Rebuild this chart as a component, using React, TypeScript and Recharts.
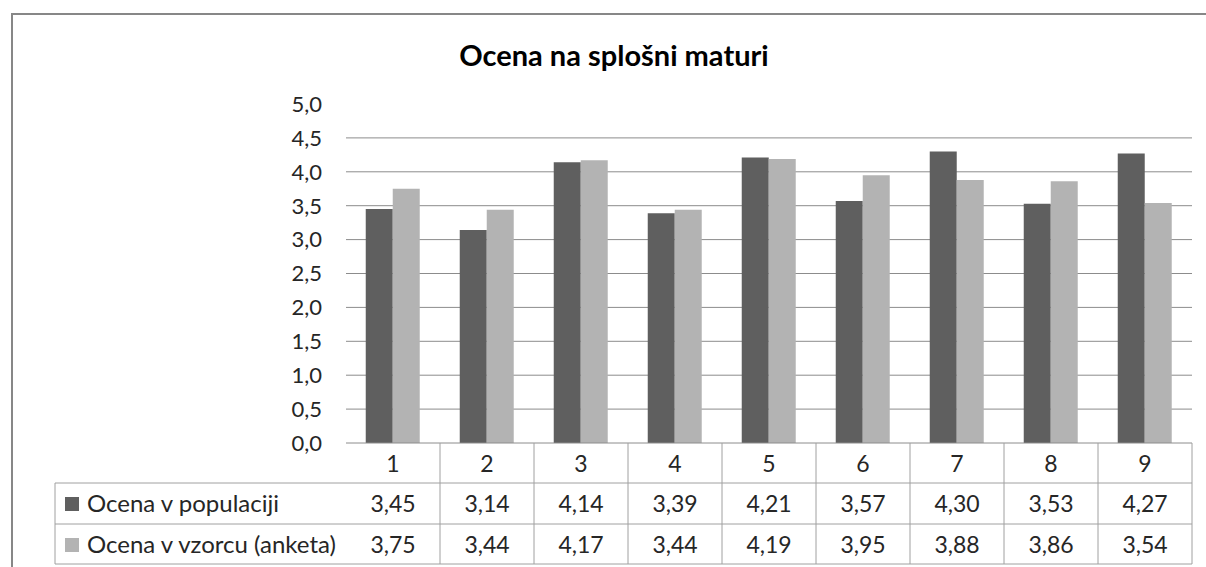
import React from "react";
import { BarChart, Bar, XAxis, YAxis, CartesianGrid } from "recharts";

const CATEGORIES = ["1", "2", "3", "4", "5", "6", "7", "8", "9"];
const POPULATION = [3.45, 3.14, 4.14, 3.39, 4.21, 3.57, 4.3, 3.53, 4.27];
const SAMPLE = [3.75, 3.44, 4.17, 3.44, 4.19, 3.95, 3.88, 3.86, 3.54];
const Y_TICKS = [0, 0.5, 1, 1.5, 2, 2.5, 3, 3.5, 4, 4.5, 5];
const GRID_VALUES = [0.5, 1, 1.5, 2, 2.5, 3, 3.5, 4, 4.5];

const SERIES = [
  { key: "population", label: "Ocena v populaciji", color: "#5f5f5f", values: POPULATION },
  { key: "sample", label: "Ocena v vzorcu (anketa)", color: "#b3b3b3", values: SAMPLE },
];

const data = CATEGORIES.map((cat, i) => ({
  cat,
  population: POPULATION[i],
  sample: SAMPLE[i],
}));

const FONT = "Lato, 'Noto Sans', sans-serif";
const TABLE_LINE = "#a0a0a0";
const TEXT = "#262626";

function fmt(value: number, digits: number): string {
  return value.toFixed(digits).replace(".", ",");
}

// the data table under the plot is drawn from the x axis ticks
function TableTick(props: any) {
  const { x, y, payload, index } = props;
  const half = payload?.offset ?? 47;
  const rowEdges = [y + 40, y + 81, y + 121];
  const rowCenters = [y + 21, y + 61, y + 102];
  const left = x - half;
  const tableRight = left + CATEGORIES.length * half * 2;
  const labelLeft = 55;

  return (
    <g fontFamily={FONT} fontSize={23} fill={TEXT}>
      <line x1={x + half} y1={y} x2={x + half} y2={rowEdges[2]} stroke={TABLE_LINE} />
      <text x={x} y={rowCenters[0]} textAnchor="middle" dy="0.35em" fill={TEXT}>
        {payload.value}
      </text>
      {SERIES.map((s, r) => (
        <text key={s.key} x={x} y={rowCenters[r + 1]} textAnchor="middle" dy="0.35em" fill={TEXT}>
          {fmt(s.values[index], 2)}
        </text>
      ))}
      {index === 0 && (
        <g>
          {rowEdges.map((ry) => (
            <line key={ry} x1={labelLeft} y1={ry} x2={tableRight} y2={ry} stroke={TABLE_LINE} />
          ))}
          <line x1={labelLeft} y1={rowEdges[0]} x2={labelLeft} y2={rowEdges[2]} stroke={TABLE_LINE} />
          {SERIES.map((s, r) => (
            <g key={s.key}>
              <rect x={65} y={rowCenters[r + 1] - 7} width={14} height={14} fill={s.color} />
              <text x={87} y={rowCenters[r + 1]} dy="0.35em" fontSize={24} fill={TEXT}>
                {s.label}
              </text>
            </g>
          ))}
        </g>
      )}
    </g>
  );
}

export default function App() {
  return (
    <div
      style={{
        position: "absolute",
        left: 0,
        top: 0,
        width: 1206,
        height: 567,
        overflow: "hidden",
        background: "#fff",
        fontFamily: FONT,
      }}
    >
      <div
        style={{
          position: "absolute",
          left: 11,
          top: 13,
          width: 1220,
          height: 600,
          border: "2px solid #878787",
        }}
      />
      <div
        style={{
          position: "absolute",
          left: 0,
          width: 1228,
          top: 38,
          textAlign: "center",
          fontSize: 29,
          fontWeight: 700,
          color: "#000",
          lineHeight: "34px",
        }}
      >
        Ocena na splošni maturi
      </div>
      <div style={{ position: "absolute", left: 0, top: 0 }}>
        <BarChart
          width={1206}
          height={567}
          data={data}
          margin={{ top: 104, right: 14, bottom: 0, left: 286 }}
          barCategoryGap="21%"
          barGap={0}
        >
          <CartesianGrid
            vertical={false}
            horizontalValues={GRID_VALUES}
            stroke="#8c8c8c"
          />
          <YAxis
            width={60}
            domain={[0, 5]}
            ticks={Y_TICKS}
            interval={0}
            axisLine={false}
            tickLine={false}
            tickSize={0}
            tickMargin={24}
            tickFormatter={(v) => fmt(Number(v), 1)}
            tick={{ fill: TEXT, fontSize: 22, fontFamily: FONT }}
          />
          <XAxis
            dataKey="cat"
            height={124}
            interval={0}
            axisLine={{ stroke: "#8c8c8c" }}
            tickLine={false}
            tickSize={0}
            tickMargin={0}
            tick={<TableTick />}
          />
          {SERIES.map((s) => (
            <Bar key={s.key} dataKey={s.key} fill={s.color} isAnimationActive={false} />
          ))}
        </BarChart>
      </div>
    </div>
  );
}
